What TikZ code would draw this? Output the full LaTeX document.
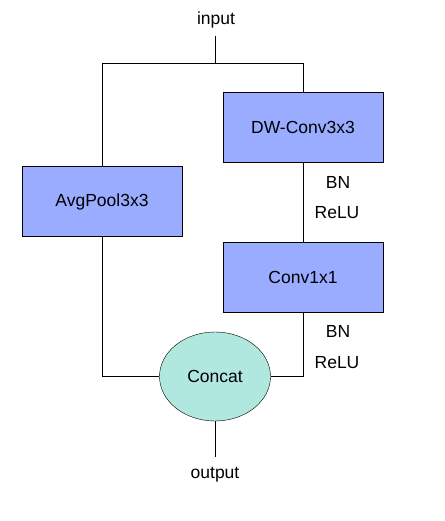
\documentclass[tikz,border=0pt]{standalone}
\usepackage{fontspec}
\setmainfont{Liberation Sans}
\usetikzlibrary{shapes.geometric}
\definecolor{boxblue}{RGB}{154,172,255}
\definecolor{ellgreen}{RGB}{176,232,223}
\begin{document}
\begin{tikzpicture}[x=1pt,y=-1pt,
  lbl/.style={font=\fontsize{17.5}{21}\selectfont, inner sep=0pt},
  blk/.style={draw, fill=boxblue, minimum width=160pt, minimum height=70pt, font=\fontsize{17.5}{21}\selectfont, inner sep=0pt},
  ell/.style={draw, ellipse, fill=ellgreen, minimum width=111pt, minimum height=89pt, font=\fontsize{17.5}{21}\selectfont, inner sep=0pt},
  conn/.style={draw, line width=0.8pt}]
\useasboundingbox (0,0) rectangle (444,521);
\node[lbl] (in) at (216,20) {input};
\coordinate (split) at (215,63);
\coordinate (lt) at (102,63);
\coordinate (rt) at (303,63);
\node[blk] (dw) at (303,127) {DW-Conv3x3};
\node[blk] (avg) at (102,201.5) {AvgPool3x3};
\node[blk] (c1) at (303,277.5) {Conv1x1};
\node[ell] (cat) at (215,376.5) {Concat};
\node[lbl] (bn1) at (338,182) {BN};
\node[lbl] (r1) at (337,213) {ReLU};
\node[lbl] (bn2) at (338,331) {BN};
\node[lbl] (r2) at (337,363) {ReLU};
\node[lbl] (out) at (215,475) {output};
\coordinate (inb) at (215,36);
\coordinate (outt) at (215,457);
\coordinate (lb) at (102,376.5);
\coordinate (rb) at (303,376.5);
\draw[conn] (inb) -- (split);
\draw[conn] (lt) -- (rt);
\draw[conn] (lt) -- (avg.north);
\draw[conn] (rt) -- (dw.north);
\draw[conn] (dw.south) -- (c1.north);
\draw[conn] (avg.south) -- (lb) -- (cat.west);
\draw[conn] (c1.south) -- (rb) -- (cat.east);
\draw[conn] (cat.south) -- (outt);
\end{tikzpicture}
\end{document}
